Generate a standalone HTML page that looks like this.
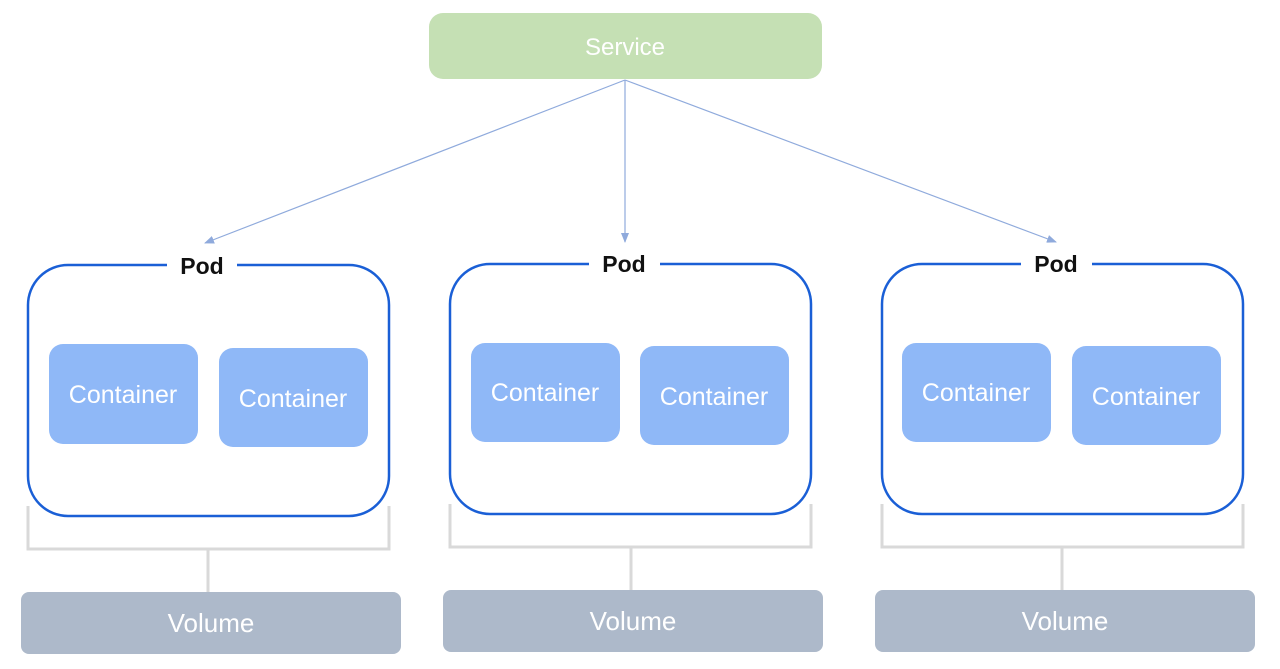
<!DOCTYPE html>
<html><head><meta charset="utf-8"><style>
html,body{margin:0;padding:0;background:#fff;width:1280px;height:669px;overflow:hidden}
svg text{font-family:"Liberation Sans",sans-serif}
</style></head><body>
<svg width="1280" height="669" viewBox="0 0 1280 669" xmlns="http://www.w3.org/2000/svg">
<defs>
<marker id="a" markerWidth="10" markerHeight="8" refX="9" refY="4" orient="auto" markerUnits="userSpaceOnUse">
<path d="M0,0 L10,4 L0,8 z" fill="#8faadc"/></marker>
</defs>
<rect x="429" y="13" width="393" height="66" rx="14" fill="#c5e0b4"/>
<text x="625" y="55" font-size="24" fill="#fff" text-anchor="middle">Service</text>
<g stroke="#8faadc" stroke-width="1.2" fill="none">
<line x1="625" y1="80" x2="205" y2="243" marker-end="url(#a)"/>
<line x1="625" y1="80" x2="625" y2="242" marker-end="url(#a)"/>
<line x1="625" y1="80" x2="1056" y2="242" marker-end="url(#a)"/>
</g>
<g>
<path d="M167,265 H68 A40,40 0 0 0 28,305 V476 A40,40 0 0 0 68,516 H349 A40,40 0 0 0 389,476 V305 A40,40 0 0 0 349,265 H237" fill="none" stroke="#1a5fd6" stroke-width="2.5"/>
<text x="202" y="274" font-size="23" font-weight="bold" text-anchor="middle" fill="#111">Pod</text>
<rect x="49" y="344" width="149" height="100" rx="14" fill="#8fb8f7"/>
<text x="123" y="403" font-size="25" fill="#fff" text-anchor="middle">Container</text>
<rect x="219" y="348" width="149" height="99" rx="14" fill="#8fb8f7"/>
<text x="293" y="407" font-size="25" fill="#fff" text-anchor="middle">Container</text>
<path d="M28,506 V549 H389 V506 M208,549 V592" fill="none" stroke="#d9d9d9" stroke-width="3"/>
<rect x="21" y="592" width="380" height="62" rx="8" fill="#adb9ca"/>
<text x="211" y="632" font-size="26" fill="#fff" text-anchor="middle">Volume</text>
</g>
<g>
<path d="M589,264 H490 A40,40 0 0 0 450,304 V474 A40,40 0 0 0 490,514 H771 A40,40 0 0 0 811,474 V304 A40,40 0 0 0 771,264 H660" fill="none" stroke="#1a5fd6" stroke-width="2.5"/>
<text x="624" y="272" font-size="23" font-weight="bold" text-anchor="middle" fill="#111">Pod</text>
<rect x="471" y="343" width="149" height="99" rx="14" fill="#8fb8f7"/>
<text x="545" y="401" font-size="25" fill="#fff" text-anchor="middle">Container</text>
<rect x="640" y="346" width="149" height="99" rx="14" fill="#8fb8f7"/>
<text x="714" y="405" font-size="25" fill="#fff" text-anchor="middle">Container</text>
<path d="M450,504 V547 H811 V504 M631,547 V590" fill="none" stroke="#d9d9d9" stroke-width="3"/>
<rect x="443" y="590" width="380" height="62" rx="8" fill="#adb9ca"/>
<text x="633" y="630" font-size="26" fill="#fff" text-anchor="middle">Volume</text>
</g>
<g>
<path d="M1021,264 H922 A40,40 0 0 0 882,304 V474 A40,40 0 0 0 922,514 H1203 A40,40 0 0 0 1243,474 V304 A40,40 0 0 0 1203,264 H1092" fill="none" stroke="#1a5fd6" stroke-width="2.5"/>
<text x="1056" y="272" font-size="23" font-weight="bold" text-anchor="middle" fill="#111">Pod</text>
<rect x="902" y="343" width="149" height="99" rx="14" fill="#8fb8f7"/>
<text x="976" y="401" font-size="25" fill="#fff" text-anchor="middle">Container</text>
<rect x="1072" y="346" width="149" height="99" rx="14" fill="#8fb8f7"/>
<text x="1146" y="405" font-size="25" fill="#fff" text-anchor="middle">Container</text>
<path d="M882,504 V547 H1243 V504 M1062,547 V590" fill="none" stroke="#d9d9d9" stroke-width="3"/>
<rect x="875" y="590" width="380" height="62" rx="8" fill="#adb9ca"/>
<text x="1065" y="630" font-size="26" fill="#fff" text-anchor="middle">Volume</text>
</g>
</svg>
</body></html>
